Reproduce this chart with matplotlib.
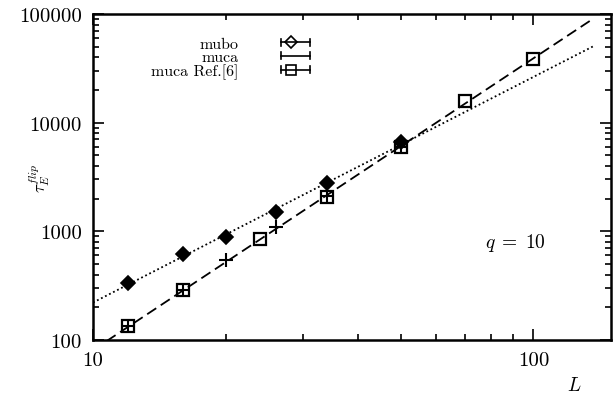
import numpy as np
import matplotlib
matplotlib.use("Agg")
import matplotlib.pyplot as plt
from matplotlib.lines import Line2D
from matplotlib.legend_handler import HandlerBase
from matplotlib.ticker import FuncFormatter, LogLocator

plt.rcParams['mathtext.fontset'] = 'cm'
plt.rcParams['font.family'] = 'cmr10'
plt.rcParams['axes.formatter.use_mathtext'] = True

# data
L_mubo = [12, 16, 20, 26, 34, 50]
tau_mubo = [333, 615, 880, 1520, 2760, 6600]

L_muca = [12, 16, 20, 26, 34, 50]
tau_muca = [134, 290, 540, 1090, 2100, 6000]

L_ref = [12, 16, 24, 34, 50, 70, 100]
tau_ref = [134, 287, 845, 2050, 6000, 15900, 38600]

fit_range = [10, 137]


class HBarHandler(HandlerBase):
    # gnuplot style key sample: horizontal bar with end caps, marker in the middle
    def create_artists(self, legend, orig_handle, xd, yd, w, h, fontsize, trans):
        y = h / 2 - yd
        x0, x1 = -xd, w - xd
        c = 0.3 * h
        arts = [Line2D([x0, x1], [y, y], color='k', lw=1.2),
                Line2D([x0, x0], [y - c, y + c], color='k', lw=1.2),
                Line2D([x1, x1], [y - c, y + c], color='k', lw=1.2)]
        if orig_handle.get_marker() not in (None, 'None', ''):
            arts.append(Line2D([x0 + 0.33 * w], [y], marker=orig_handle.get_marker(),
                               ms=orig_handle.get_markersize(), mfc='none', mec='k',
                               mew=1.2, ls='none'))
        for a in arts:
            a.set_transform(trans)
        return arts


fig = plt.figure(figsize=(6.14, 4.02), dpi=100)
ax = fig.add_axes([93 / 614, 1 - 341 / 402, 518 / 614, 326 / 402])

ax.set_xscale('log')
ax.set_yscale('log')

# power law fits
Lf = np.logspace(np.log10(fit_range[0]), np.log10(fit_range[1]), 100)
p1 = np.polyfit(np.log10(L_mubo), np.log10(tau_mubo), 1)
p2 = np.polyfit(np.log10(L_ref), np.log10(tau_ref), 1)
ax.plot(Lf, 10 ** np.polyval(p1, np.log10(Lf)), ls=(0, (1, 1.5)), color='k', lw=1.3)
ax.plot(Lf, 10 ** np.polyval(p2, np.log10(Lf)), ls=(0, (6, 3)), color='k', lw=1.3)

ax.plot(L_mubo, tau_mubo, ls='none', marker='D', ms=7, mfc='k', mec='k', mew=1.2)
ax.plot(L_muca, tau_muca, ls='none', marker='+', ms=10, color='k', mew=1.5)
ax.plot(L_ref, tau_ref, ls='none', marker='s', ms=9, mfc='none', mec='k', mew=1.6)

h1 = Line2D([], [], marker='D', ms=6)
h2 = Line2D([], [], marker='None')
h3 = Line2D([], [], marker='s', ms=7)
leg = ax.legend([h1, h2, h3], ['mubo', 'muca', 'muca Ref.[6]'],
                handler_map={Line2D: HBarHandler()},
                loc='upper right', bbox_to_anchor=(0.419, 0.93), markerfirst=False,
                frameon=False, prop={'family': 'cmr10', 'size': 11.5},
                handlelength=1.8, handletextpad=2.7, handleheight=0.7,
                labelspacing=-0.05, borderpad=0, borderaxespad=0)

ax.text(0.815, 0.30, r'$q\;=\;10$', transform=ax.transAxes, fontsize=14, ha='center', va='center')

ax.set_xlim(10, 150)
ax.set_ylim(100, 100000)

fmt = FuncFormatter(lambda v, p: '%d' % round(v))
ax.xaxis.set_major_formatter(fmt)
ax.yaxis.set_major_formatter(fmt)
ax.xaxis.set_minor_formatter(FuncFormatter(lambda v, p: ''))
ax.yaxis.set_minor_locator(LogLocator(base=10, subs=np.arange(2, 10)))
ax.xaxis.set_minor_locator(LogLocator(base=10, subs=np.arange(2, 10)))

ax.tick_params(which='both', direction='in', top=True, right=True, labelsize=15, width=1.2)
ax.tick_params(which='major', length=8)
ax.tick_params(which='minor', length=4)
ax.tick_params(axis='x', pad=8)
ax.tick_params(axis='y', pad=8)
for s in ax.spines.values():
    s.set_linewidth(1.8)

ax.set_xlabel(r'$L$', fontsize=14)
ax.xaxis.set_label_coords(0.93, -0.11)
ax.set_ylabel(r'$\tau_E^{flip}$', fontsize=12)
ax.yaxis.set_label_coords(-0.08, 0.50)

fig.savefig('out.png', dpi=100)
